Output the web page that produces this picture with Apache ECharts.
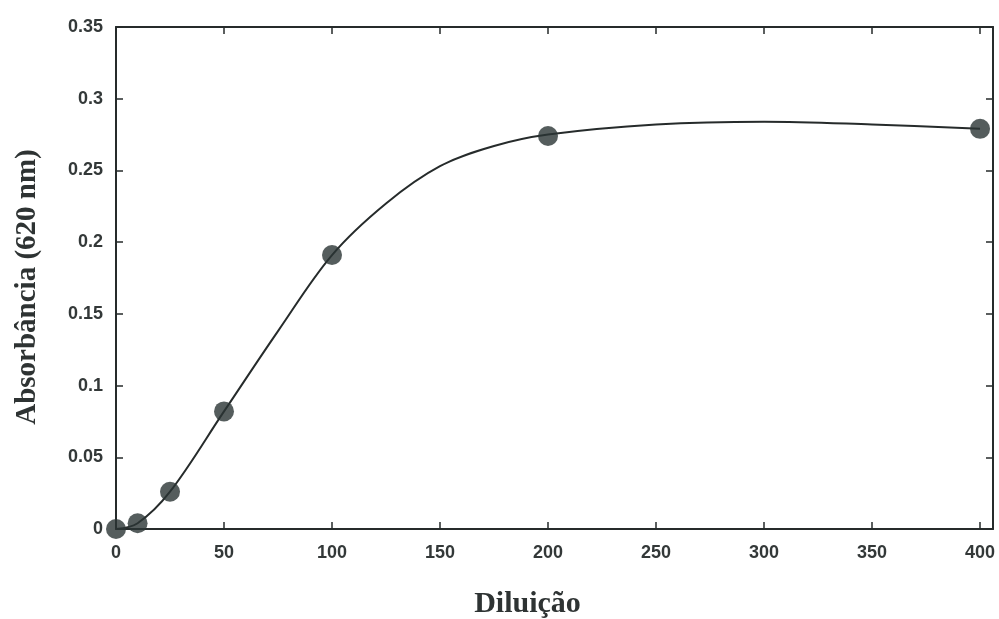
<!DOCTYPE html>
<html><head><meta charset="utf-8">
<script src="https://cdn.jsdelivr.net/npm/echarts@6/dist/echarts.min.js"></script>
<style>html,body{margin:0;padding:0;background:#fff}#c{width:999px;height:619px}</style>
</head><body><div id="c"></div>
<script>
// measured points
const dilution = [0, 10, 25, 50, 100, 200, 400];
const absorbance = [0, 0.004, 0.026, 0.082, 0.191, 0.274, 0.279];
// fitted curve
const curveX = [0, 10, 25, 50, 75, 100, 125, 150, 175, 200, 250, 300, 350, 400];
const curveY = [0, 0.004, 0.026, 0.082, 0.138, 0.191, 0.227, 0.253, 0.267, 0.275, 0.282, 0.284, 0.282, 0.279];
const xTicks = [0, 50, 100, 150, 200, 250, 300, 350, 400];
const yTicks = [0, 0.05, 0.1, 0.15, 0.2, 0.25, 0.3, 0.35];

const chart = echarts.init(document.getElementById('c'));
const ink = '#262b2b';
const lbl = {fontFamily: 'Liberation Sans, Arial, sans-serif', fontSize: 18, fontWeight: 'bold', color: '#333838'};
const yfmt = v => String(Math.round(v * 100) / 100);
chart.setOption({
  animation: false,
  backgroundColor: '#ffffff',
  grid: {left: 116, right: 6, top: 27, bottom: 90, containLabel: false, outerBoundsMode: 'none'},
  xAxis: [{
    type: 'value', min: 0, max: 406, interval: 50,
    name: 'Diluição', nameLocation: 'middle', nameGap: 60,
    nameTextStyle: {fontFamily: 'Liberation Serif, Times New Roman, serif', fontWeight: 'bold', fontSize: 30, color: '#2e3333', padding: [0, 54, 0, 0]},
    axisLine: {show: true, lineStyle: {color: ink, width: 2}},
    axisTick: {show: true, inside: true, length: 7, lineStyle: {color: ink, width: 1.5}, customValues: xTicks},
    axisLabel: Object.assign({margin: 15, customValues: xTicks, formatter: v => String(v)}, lbl),
    splitLine: {show: false}
  }, {
    type: 'value', position: 'top', min: 0, max: 406, interval: 50,
    axisLine: {show: true, onZero: false, lineStyle: {color: ink, width: 2}},
    axisTick: {show: true, inside: true, length: 7, lineStyle: {color: ink, width: 1.5}, customValues: xTicks},
    axisLabel: {show: false}, splitLine: {show: false}
  }],
  yAxis: [{
    type: 'value', min: 0, max: 0.35, interval: 0.05,
    name: 'Absorbância (620 nm)', nameLocation: 'middle', nameGap: 74, nameRotate: 90,
    nameTextStyle: {fontFamily: 'Liberation Serif, Times New Roman, serif', fontWeight: 'bold', fontSize: 29, color: '#2e3333', padding: [0, 18, 0, 0]},
    axisLine: {show: true, lineStyle: {color: ink, width: 2}},
    axisTick: {show: true, inside: true, length: 7, lineStyle: {color: ink, width: 1.5}, customValues: yTicks},
    axisLabel: Object.assign({margin: 13, customValues: yTicks, formatter: yfmt}, lbl),
    splitLine: {show: false}
  }, {
    type: 'value', position: 'right', min: 0, max: 0.35, interval: 0.05,
    axisLine: {show: true, onZero: false, lineStyle: {color: ink, width: 2}},
    axisTick: {show: true, inside: true, length: 7, lineStyle: {color: ink, width: 1.5}, customValues: yTicks},
    axisLabel: {show: false}, splitLine: {show: false}
  }],
  series: [{
    type: 'line', xAxisIndex: 0, yAxisIndex: 0,
    data: curveX.map((x, i) => [x, curveY[i]]),
    smooth: 0.35, showSymbol: false, symbol: 'none',
    lineStyle: {color: ink, width: 2}, z: 2
  }, {
    type: 'scatter', xAxisIndex: 0, yAxisIndex: 0,
    data: dilution.map((x, i) => [x, absorbance[i]]),
    symbol: 'circle', symbolSize: 20,
    itemStyle: {color: '#2a3434'}, z: 3, clip: false
  }]
});
</script></body></html>
